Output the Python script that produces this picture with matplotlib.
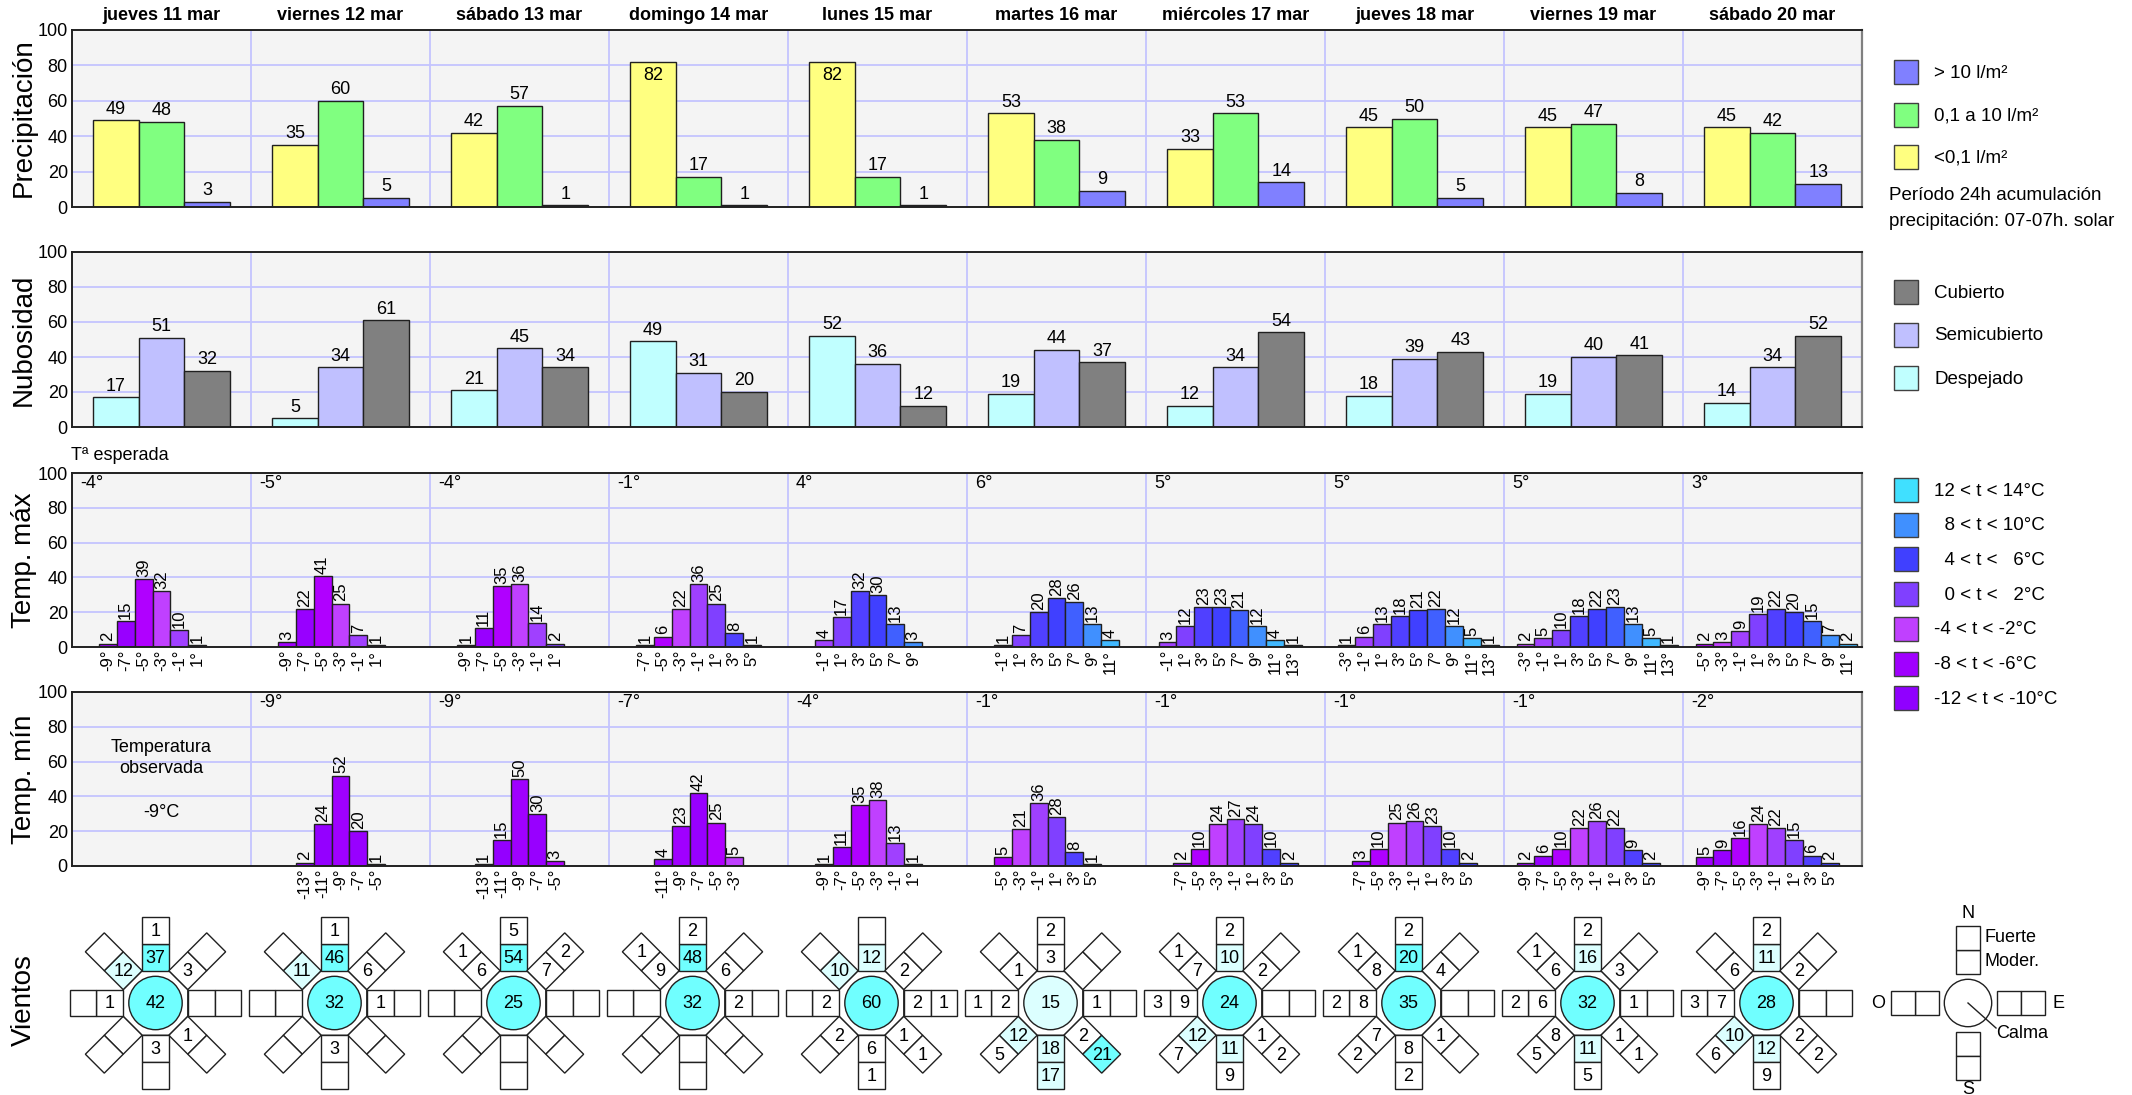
import numpy as np
import matplotlib
matplotlib.use('Agg')
import matplotlib.pyplot as plt
from matplotlib.patches import Polygon, Circle, Rectangle

plt.rcParams['font.family'] = ['Liberation Sans', 'DejaVu Sans']

# ---- datos ----
dias = ['jueves 11 mar', 'viernes 12 mar', 'sábado 13 mar', 'domingo 14 mar', 'lunes 15 mar',
        'martes 16 mar', 'miércoles 17 mar', 'jueves 18 mar', 'viernes 19 mar', 'sábado 20 mar']

prec_bajo = [49, 35, 42, 82, 82, 53, 33, 45, 45, 45]     # <0,1 l/m2
prec_medio = [48, 60, 57, 17, 17, 38, 53, 50, 47, 42]    # 0,1 a 10 l/m2
prec_alto = [3, 5, 1, 1, 1, 9, 14, 5, 8, 13]             # > 10 l/m2

nub_desp = [17, 5, 21, 49, 52, 19, 12, 18, 19, 14]
nub_semi = [51, 34, 45, 31, 36, 44, 34, 39, 40, 34]
nub_cub = [32, 61, 34, 20, 12, 37, 54, 43, 41, 52]

tmax_esperada = [-4, -5, -4, -1, 4, 6, 5, 5, 5, 3]
tmax_ini = [-9, -9, -9, -7, -1, -1, -1, -3, -3, -5]
tmax_frec = [
    [2, 15, 39, 32, 10, 1],
    [3, 22, 41, 25, 7, 1],
    [1, 11, 35, 36, 14, 2],
    [1, 6, 22, 36, 25, 8, 1],
    [4, 17, 32, 30, 13, 3],
    [1, 7, 20, 28, 26, 13, 4],
    [3, 12, 23, 23, 21, 12, 4, 1],
    [1, 6, 13, 18, 21, 22, 12, 5, 1],
    [2, 5, 10, 18, 22, 23, 13, 5, 1],
    [2, 3, 9, 19, 22, 20, 15, 7, 2],
]

tmin_observada = -9
tmin_esperada = [None, -9, -9, -7, -4, -1, -1, -1, -1, -2]
tmin_ini = [None, -13, -13, -11, -9, -5, -7, -7, -9, -9]
tmin_frec = [
    [],
    [2, 24, 52, 20, 1],
    [1, 15, 50, 30, 3],
    [4, 23, 42, 25, 5],
    [1, 11, 35, 38, 13, 1],
    [5, 21, 36, 28, 8, 1],
    [2, 10, 24, 27, 24, 10, 2],
    [3, 10, 25, 26, 23, 10, 2],
    [2, 6, 10, 22, 26, 22, 9, 2],
    [5, 9, 16, 24, 22, 15, 6, 2],
]

# vientos: N, NE, E, SE, S, SO, O, NO
viento_moder = [
    [37, 3, 0, 1, 3, 0, 1, 12],
    [46, 6, 1, 0, 3, 0, 0, 11],
    [54, 7, 0, 0, 0, 0, 0, 6],
    [48, 6, 2, 0, 0, 0, 0, 9],
    [12, 2, 2, 1, 6, 2, 2, 10],
    [3, 0, 1, 2, 18, 12, 2, 1],
    [10, 2, 0, 1, 11, 12, 9, 7],
    [20, 4, 0, 1, 8, 7, 8, 8],
    [16, 3, 1, 1, 11, 8, 6, 6],
    [11, 2, 0, 2, 12, 10, 7, 6],
]
viento_fuerte = [
    [1, 0, 0, 0, 0, 0, 0, 0],
    [1, 0, 0, 0, 0, 0, 0, 0],
    [5, 2, 0, 0, 0, 0, 0, 1],
    [2, 0, 0, 0, 0, 0, 0, 1],
    [0, 0, 1, 1, 1, 0, 0, 0],
    [2, 0, 0, 21, 17, 5, 1, 0],
    [2, 0, 0, 2, 9, 7, 3, 1],
    [2, 0, 0, 0, 2, 2, 2, 1],
    [2, 0, 0, 1, 5, 5, 2, 1],
    [2, 0, 0, 2, 9, 6, 3, 0],
]
calma = [42, 32, 25, 32, 60, 15, 24, 35, 32, 28]

leg_prec = ['> 10 l/m²', '0,1 a 10 l/m²', '<0,1 l/m²']
leg_nub = ['Cubierto', 'Semicubierto', 'Despejado']
leg_temp = ['12 < t < 14°C', '  8 < t < 10°C', '  4 < t <   6°C', '  0 < t <   2°C',
            '-4 < t < -2°C', '-8 < t < -6°C', '-12 < t < -10°C']

# ---- estilos ----
c_prec = ['#8080FF', '#80FF80', '#FFFF80']
c_nub = ['#808080', '#C0C0FF', '#C0FFFF']
c_leg_temp = ['#40E0FF', '#4090FF', '#4040FF', '#8040FF', '#C040FF', '#A000FF', '#9000FF']
c_bin = {-13: '#9000FF', -11: '#9400FF', -9: '#A000FF', -7: '#9800FF', -5: '#B000FF',
         -3: '#C040FF', -1: '#A040FF', 1: '#8040FF', 3: '#5040FF', 5: '#4040FF',
         7: '#4060FF', 9: '#4090FF', 11: '#40B8FF', 13: '#40E0FF'}
GRID = '#C4C4FF'
EDGE = '#202020'

W, H = 2132, 1095
X0, X1 = 72, 1862
COLW = (X1 - X0) / 10

fig = plt.figure(figsize=(W / 100, H / 100), dpi=100)

# capa en pixeles para rosas, leyendas y textos
ov = fig.add_axes([0, 0, 1, 1], facecolor='none')
ov.set_xlim(0, W)
ov.set_ylim(H, 0)
ov.axis('off')


def panel(y0, y1):
    ax = fig.add_axes([X0 / W, 1 - y1 / H, (X1 - X0) / W, (y1 - y0) / H])
    ax.set_facecolor('#F4F4F4')
    ax.set_xlim(0, 10)
    ax.set_ylim(0, 100)
    ax.set_yticks(range(0, 101, 20))
    ax.tick_params(axis='y', length=0, pad=3, labelsize=13)
    for y in range(20, 100, 20):
        ax.axhline(y, color=GRID, lw=1.3, zorder=0)
    for x in range(1, 10):
        ax.axvline(x, color=GRID, lw=1.3, zorder=0)
    for s in ['left', 'bottom', 'top']:
        ax.spines[s].set_color('#202020')
        ax.spines[s].set_linewidth(1.4)
    ax.spines['right'].set_color('#808080')
    ax.spines['right'].set_linewidth(1.6)
    return ax


def grupo(ax, series, colores):
    bw = 0.255
    for j, (vals, col) in enumerate(zip(series, colores)):
        x = np.arange(10) + 0.5 + (j - 1) * bw
        ax.bar(x, vals, width=bw, color=col, edgecolor=EDGE, lw=1, zorder=2)
        for xi, v in zip(x, vals):
            if v > 75:
                ax.text(xi, v - 3, str(v), ha='center', va='top', fontsize=13, zorder=3)
            else:
                ax.text(xi, v + 1.5, str(v), ha='center', va='bottom', fontsize=13, zorder=3)
    ax.set_xticks([])


def histo(ax, inis, frecs, esperada):
    centros, etiquetas = [], []
    for d, (t0, fr) in enumerate(zip(inis, frecs)):
        if esperada[d] is not None:
            ax.text(d + 0.045, 94, f'{esperada[d]}°', ha='left', va='center', fontsize=13)
        n = len(fr)
        if n == 0:
            continue
        start = max(0.7, (10 - n) / 2 - (0.5 if n % 2 == 0 else 0))
        for i, v in enumerate(fr):
            t = t0 + 2 * i
            xc = d + (start + i + 0.5) * 0.1
            ax.bar(xc, v, width=0.1, color=c_bin[t], edgecolor=EDGE, lw=1, zorder=2)
            ax.text(xc, v + 1.2, str(v), rotation=90, ha='center', va='bottom', fontsize=12)
            centros.append(xc)
            etiquetas.append(f'{t}°')
    ax.set_xticks(centros, etiquetas, rotation=90, fontsize=12)
    ax.tick_params(axis='x', length=0, pad=2)


ax_p = panel(30, 207)
grupo(ax_p, [prec_bajo, prec_medio, prec_alto], [c_prec[2], c_prec[1], c_prec[0]])
ax_n = panel(252, 427)
grupo(ax_n, [nub_desp, nub_semi, nub_cub], [c_nub[2], c_nub[1], c_nub[0]])
ax_tx = panel(473, 647)
histo(ax_tx, tmax_ini, tmax_frec, tmax_esperada)
ax_tn = panel(692, 866)
histo(ax_tn, tmin_ini, tmin_frec, tmin_esperada)
ax_tn.text(0.5, 62, 'Temperatura\nobservada', ha='center', va='center', fontsize=13, linespacing=1.3)
ax_tn.text(0.5, 31, f'{tmin_observada}°C', ha='center', va='center', fontsize=13)

# cabeceras de dia
for d, nom in enumerate(dias):
    ov.text(X0 + (d + 0.5) * COLW, 16, nom, ha='center', va='center', fontsize=13, fontweight='bold')

# etiquetas de eje
for txt, yc in [('Precipitación', 118), ('Nubosidad', 340), ('Temp. máx', 560),
                ('Temp. mín', 779), ('Vientos', 1000)]:
    ov.text(24, yc, txt, rotation=90, ha='center', va='center', fontsize=20)
ov.text(71, 455, 'Tª esperada', ha='left', va='center', fontsize=13)

# leyendas
LX = 1894
for lab, col, yt in zip(leg_prec, c_prec, [60, 103, 145]):
    ov.add_patch(Rectangle((LX, yt), 24, 24, fc=col, ec='#404040', lw=1))
    ov.text(LX + 40, yt + 13, lab, ha='left', va='center', fontsize=13.5)
ov.text(1889, 195, 'Período 24h acumulación', ha='left', va='center', fontsize=13.5)
ov.text(1889, 222, 'precipitación: 07-07h. solar', ha='left', va='center', fontsize=13.5)
for lab, col, yt in zip(leg_nub, c_nub, [280, 323, 366]):
    ov.add_patch(Rectangle((LX, yt), 24, 24, fc=col, ec='#404040', lw=1))
    ov.text(LX + 40, yt + 13, lab, ha='left', va='center', fontsize=13.5)
for i, (lab, col) in enumerate(zip(leg_temp, c_leg_temp)):
    yt = 478 + i * 34.7
    ov.add_patch(Rectangle((LX, yt), 24, 24, fc=col, ec='#404040', lw=1))
    ov.text(LX + 40, yt + 13, lab, ha='left', va='center', fontsize=13.5)


# rosas de viento
def color_v(v):
    if v >= 20:
        return '#70FFFF'
    if v >= 10:
        return '#DCFFFF'
    return 'white'


def rosa(cx, cy, a, rc, moder, fuerte, calma_v, dirs=range(8), octo=True):
    s = 2 * a * np.tan(np.pi / 8)
    c = np.array([cx, cy])
    if octo:
        R = a / np.cos(np.pi / 8)
        ang = np.deg2rad(22.5 + 45 * np.arange(8))
        pts = np.column_stack([cx + R * np.sin(ang), cy - R * np.cos(ang)])
        ov.add_patch(Polygon(pts, closed=True, fc='white', ec=EDGE, lw=1))
    for k in dirs:
        th = np.deg2rad(45 * k)
        u = np.array([np.sin(th), -np.cos(th)])
        v = np.array([np.cos(th), np.sin(th)])
        for j, val in enumerate((moder[k], fuerte[k])):
            r0 = a + j * s
            r1 = r0 + s
            pts = [c + u * r0 - v * s / 2, c + u * r1 - v * s / 2,
                   c + u * r1 + v * s / 2, c + u * r0 + v * s / 2]
            ov.add_patch(Polygon(pts, closed=True, fc=color_v(val), ec=EDGE, lw=1))
            if val:
                p = c + u * (r0 + s / 2)
                ov.text(p[0], p[1] + 1, str(val), ha='center', va='center', fontsize=13)
    ov.add_patch(Circle((cx, cy), rc, fc=color_v(calma_v) if calma_v is not None else 'white',
                        ec=EDGE, lw=1))
    if calma_v is not None:
        ov.text(cx, cy + 1, str(calma_v), ha='center', va='center', fontsize=13)


CY = 1003
for d in range(10):
    rosa(X0 + (d + 0.5) * COLW - 6, CY, 32.3, 26.7, viento_moder[d], viento_fuerte[d], calma[d])

# leyenda de la rosa
LCX, LA = 1968, 29
vacio = [0] * 8
rosa(LCX, CY, LA, 23.7, vacio, vacio, None, dirs=[0, 2, 4, 6], octo=False)
ov.text(LCX, CY - LA - 2 * 24 - 13, 'N', ha='center', va='center', fontsize=13)
ov.text(LCX, CY + LA + 2 * 24 + 9, 'S', ha='center', va='center', fontsize=13)
ov.text(LCX - LA - 2 * 24 - 13, CY, 'O', ha='center', va='center', fontsize=13)
ov.text(LCX + LA + 2 * 24 + 13, CY, 'E', ha='center', va='center', fontsize=13)
ov.text(LCX + 17, CY - LA - 36, 'Fuerte', ha='left', va='center', fontsize=13)
ov.text(LCX + 17, CY - LA - 12, 'Moder.', ha='left', va='center', fontsize=13)
ov.plot([LCX, LCX + 28], [CY, CY + 25], color=EDGE, lw=1)
ov.text(LCX + 28, CY + 30, 'Calma', ha='left', va='center', fontsize=13)

fig.savefig('out.png', dpi=100)
